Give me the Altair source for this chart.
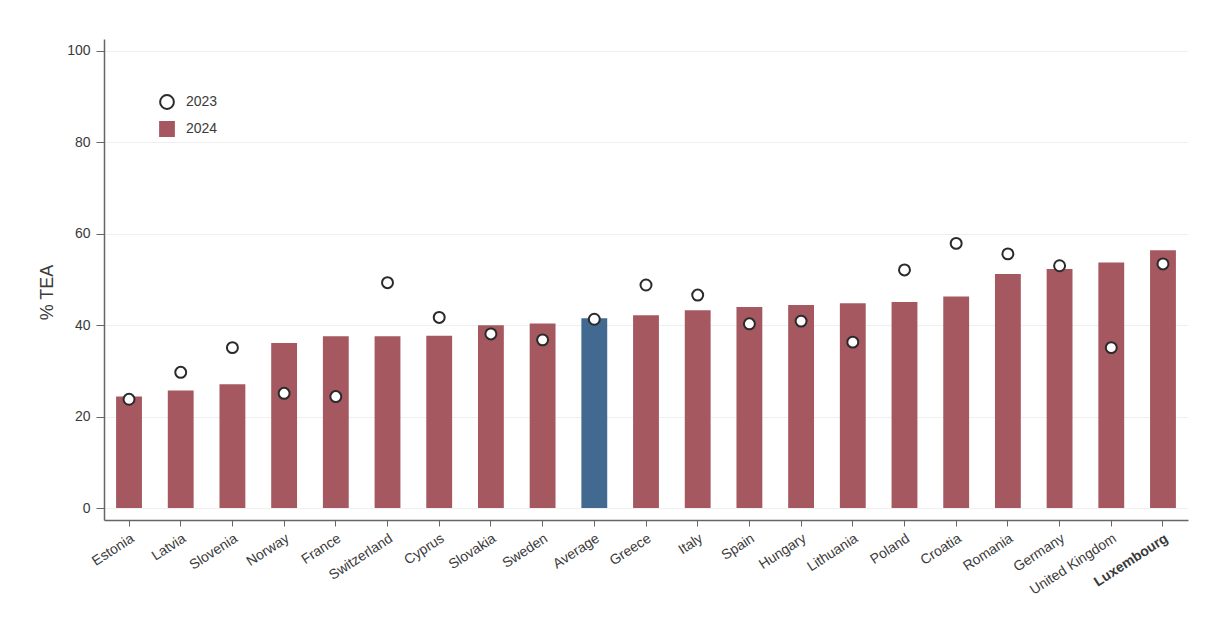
import altair as alt
import pandas as pd

countries = ["Estonia", "Latvia", "Slovenia", "Norway", "France", "Switzerland",
             "Cyprus", "Slovakia", "Sweden", "Average", "Greece", "Italy", "Spain",
             "Hungary", "Lithuania", "Poland", "Croatia", "Romania", "Germany",
             "United Kingdom", "Luxembourg"]
tea_2024 = [24.4, 25.7, 27.1, 36.1, 37.6, 37.6, 37.7, 40.0, 40.4, 41.5, 42.2, 43.3,
            44.0, 44.4, 44.8, 45.1, 46.3, 51.2, 52.3, 53.7, 56.4]
tea_2023 = [23.8, 29.7, 35.1, 25.1, 24.4, 49.3, 41.7, 38.1, 36.8, 41.3, 48.8, 46.6,
            40.3, 40.9, 36.3, 52.1, 57.9, 55.6, 53.0, 35.1, 53.4]
y_ticks = [0, 20, 40, 60, 80, 100]

RED = "#a5585f"
BLUE = "#426a90"
INK = "#3a3a3a"

bars_df = pd.DataFrame({"country": countries, "value": tea_2024, "series": "2024"})
pts_df = pd.DataFrame({"country": countries, "value": tea_2023, "series": "2023"})

x_enc = alt.X(
    "country:N",
    sort=countries,
    title=None,
    scale=alt.Scale(paddingInner=0.5, paddingOuter=0.234),
    axis=alt.Axis(
        labelAngle=-33,
        labelFontSize=14,
        labelColor=INK,
        labelFont="Liberation Sans",
        labelPadding=5,
        tickSize=6,
        tickColor="#666",
        domainColor="#666",
        domainWidth=1.5,
        labelFontWeight={"expr": "datum.value === 'Luxembourg' ? 'bold' : 'normal'"},
        grid=False,
    ),
)

y_scale = alt.Scale(domain=[-2.6, 102.6], nice=False, zero=False)
y_axis = alt.Axis(
    values=y_ticks,
    title="% TEA",
    titleFontSize=18,
    titleFont="Liberation Sans",
    titleFontWeight="normal",
    titleColor=INK,
    titleX=-57,
    titleY=253,
    titleAngle=-90,
    titleAlign="center",
    titleBaseline="middle",
    labelFontSize=14,
    labelFont="Liberation Sans",
    labelColor=INK,
    labelPadding=6,
    tickSize=8,
    tickColor="#666",
    domainColor="#666",
    domainWidth=1.5,
    grid=True,
    gridColor="#efefef",
    gridWidth=1,
)

color_scale = alt.Scale(domain=["2023", "2024"], range=["white", RED])
legend = alt.Legend(
    title=None,
    orient="none",
    legendX=55,
    legendY=55,
    labelFontSize=14,
    labelFont="Liberation Sans",
    labelColor=INK,
    symbolSize=190,
    symbolStrokeWidth=2,
    rowPadding=5,
    labelOffset=11,
)

bars = alt.Chart(bars_df).mark_bar().encode(
    x=x_enc,
    y=alt.Y("value:Q", scale=y_scale, axis=y_axis),
    color=alt.condition(
        "datum.country === 'Average'",
        alt.value(BLUE),
        alt.Color("series:N", scale=color_scale, legend=legend),
    ),
)

points = alt.Chart(pts_df).mark_point(filled=True, size=120, strokeWidth=2, opacity=1).encode(
    x=x_enc,
    y=alt.Y("value:Q", scale=y_scale, axis=y_axis),
    color=alt.Color("series:N", scale=color_scale, legend=legend),
    shape=alt.Shape("series:N", scale=alt.Scale(domain=["2023", "2024"], range=["circle", "square"]), legend=legend),
    stroke=alt.Stroke("series:N", scale=alt.Scale(domain=["2023", "2024"], range=["#2a2a2a", RED]), legend=legend),
)

chart = alt.layer(bars, points).properties(
    width=1084,
    height=481,
    autosize=alt.AutoSizeParams(type="none"),
    padding={"left": 96, "top": 31, "right": 28, "bottom": 90},
    background="white",
).configure_view(stroke=None)

chart.save("out.html", embed_options={"renderer": "svg", "actions": False})
